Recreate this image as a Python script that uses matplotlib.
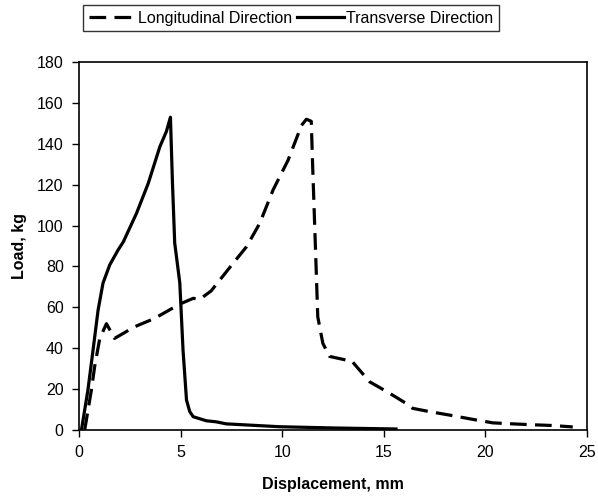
import matplotlib
matplotlib.use("Agg")
import matplotlib.pyplot as plt

plt.rcParams["font.family"] = ["Liberation Sans", "DejaVu Sans"]
plt.rcParams["lines.scale_dashes"] = False

# --- data ---
trans_x = [0.12, 0.44, 0.69, 0.94, 1.18, 1.51, 1.92, 2.18, 2.83, 3.41, 3.98, 4.3, 4.5,
           4.6, 4.71, 4.96, 5.12, 5.29, 5.45, 5.62, 6.27, 6.75, 7.25, 9.87, 12.5, 15.6]
trans_y = [0, 19.6, 39, 58.7, 71.8, 80.7, 88, 92, 106, 120.7, 138.6, 146, 153,
           120.7, 91.5, 72, 39, 14.7, 9, 6.5, 4.5, 4, 3, 1.6, 1.0, 0.5]

long_x = [0.28, 0.61, 0.77, 1.02, 1.35, 1.75, 2.74, 3.72, 4.96, 5.62, 5.95, 6.5, 7.58,
          8.24, 8.89, 9.55, 10.29, 10.95, 11.19, 11.43, 11.5, 11.64, 11.75, 12.0,
          12.33, 13.15, 13.4, 13.8, 14.3, 15.28, 16.1, 16.42, 17.24, 18.23, 19.38,
          20.36, 21.34, 22.49, 23.3, 24.3]
long_y = [0, 19.6, 31, 44.7, 52, 44.8, 50.5, 54.6, 61.6, 64.4, 64, 68, 81.5,
          89.6, 101, 117.4, 132, 149, 152, 151, 128.8, 88, 55.4, 42.4,
          36, 34.2, 34, 29.4, 23.6, 18, 13, 10.6, 9, 7.3, 5.2,
          3.5, 3, 2.5, 2.2, 1.5]

x_ticks = [0, 5, 10, 15, 20, 25]
y_ticks = [0, 20, 40, 60, 80, 100, 120, 140, 160, 180]

fig = plt.figure(figsize=(5.98, 4.99), dpi=100)
ax = fig.add_axes([79 / 598, 1 - 430 / 499, 508 / 598, 368 / 499])

ax.plot(long_x, long_y, color="black", lw=2.3, dashes=(12, 6),
        label="Longitudinal Direction")
ax.plot(trans_x, trans_y, color="black", lw=2.3, label="Transverse Direction")

ax.set_xlim(0, 25)
ax.set_ylim(0, 180)
ax.set_xticks(x_ticks)
ax.set_yticks(y_ticks)
ax.tick_params(direction="out", length=5, width=1, labelsize=11.5, pad=6)
for s in ax.spines.values():
    s.set_linewidth(1.2)

ax.set_xlabel("Displacement, mm", fontsize=11.5, fontweight="bold", labelpad=12)
ax.set_ylabel("Load, kg", fontsize=11.5, fontweight="bold", labelpad=7)

leg = fig.legend(loc="upper center", bbox_to_anchor=(291 / 598, 1 - 5 / 499),
                 ncol=2, fontsize=11.5, frameon=True, fancybox=False,
                 handlelength=2.9, handletextpad=0.15, columnspacing=0.35,
                 borderpad=0.35, borderaxespad=0)
leg.get_frame().set_edgecolor("black")
leg.get_frame().set_linewidth(1.0)

fig.savefig("out.png", dpi=100)
